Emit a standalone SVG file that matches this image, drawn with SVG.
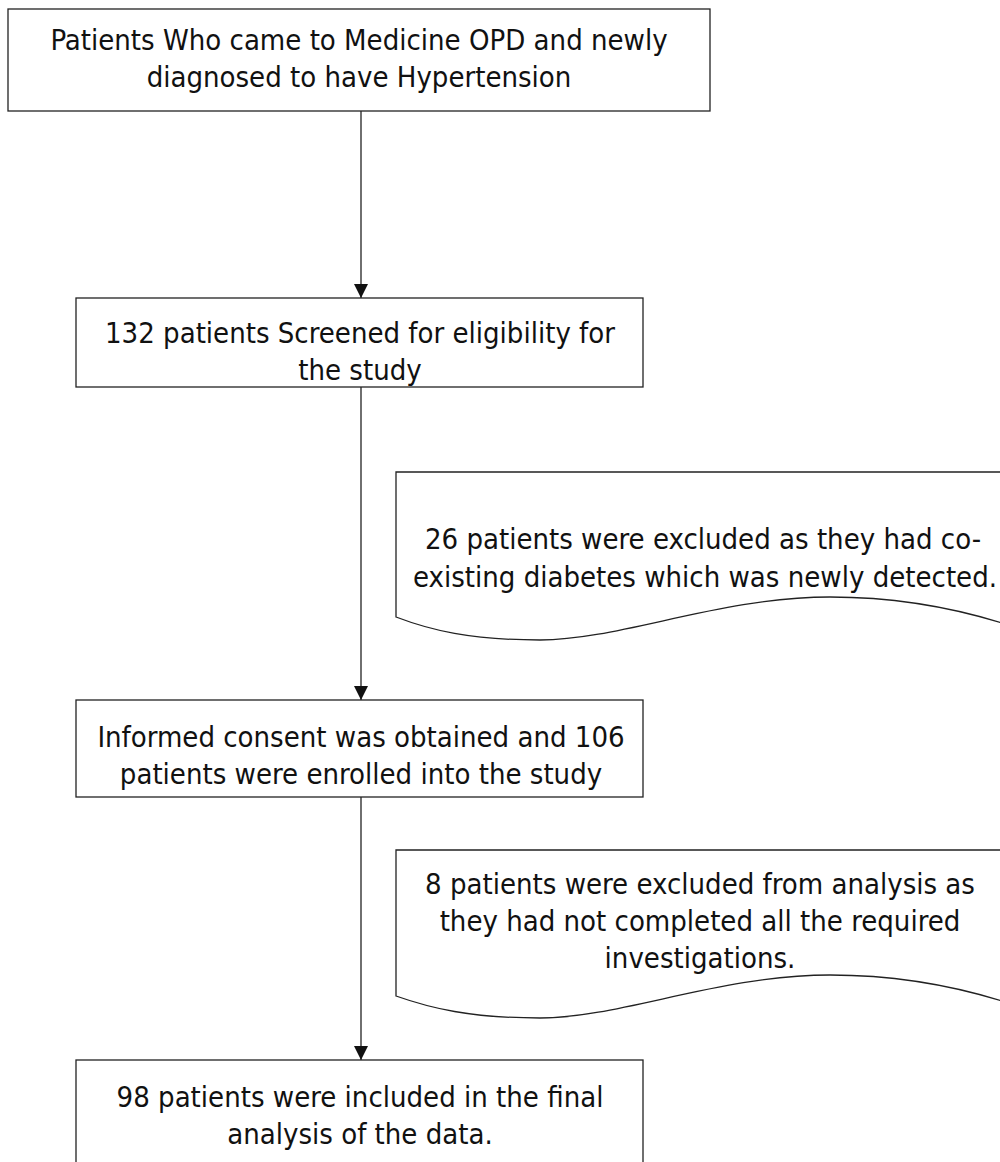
<svg xmlns="http://www.w3.org/2000/svg" width="1000" height="1162" viewBox="0 0 1000 1162">
<defs>
<style>
.box{fill:#fff;stroke:#222;stroke-width:1.3}
.t{font-family:"DejaVu Sans Condensed","DejaVu Sans",sans-serif;font-size:29px;fill:#111;text-anchor:middle}
.c{stroke:#222;stroke-width:1.3;fill:none}
</style>
<marker id="ah" viewBox="0 0 14 14" refX="14" refY="7" markerWidth="14" markerHeight="14" markerUnits="userSpaceOnUse" orient="auto">
<path d="M0,0 L14,7 L0,14 Z" fill="#111"/>
</marker>
</defs>
<rect width="1000" height="1162" fill="#fff"/>
<g id="connectors">
<line class="c" x1="361" y1="111" x2="361" y2="298" marker-end="url(#ah)"/>
<line class="c" x1="361" y1="387" x2="361" y2="700" marker-end="url(#ah)"/>
<line class="c" x1="361" y1="797" x2="361" y2="1060" marker-end="url(#ah)"/>
</g>
<g id="n1">
<rect class="box" x="8" y="9" width="702" height="102"/>
<text class="t" x="359" y="50">Patients Who came to Medicine OPD and newly</text>
<text class="t" x="359" y="87">diagnosed to have Hypertension</text>
</g>
<g id="n2">
<rect class="box" x="76" y="298" width="567" height="89"/>
<text class="t" x="360" y="343">132 patients Screened for eligibility for</text>
<text class="t" x="360" y="380">the study</text>
</g>
<g id="n3">
<path class="box" d="M396,617 L396,472 L1002,472 L1002,623 C960,610 900,597 830,597 C720,597 620,640 540,640 C470,640 430,630 396,617 Z"/>
<text class="t" x="703" y="549">26 patients were excluded as they had co-</text>
<text class="t" x="705" y="587">existing diabetes which was newly detected.</text>
</g>
<g id="n4">
<rect class="box" x="76" y="700" width="567" height="97"/>
<text class="t" x="361" y="747">Informed consent was obtained and 106</text>
<text class="t" x="361" y="784">patients were enrolled into the study</text>
</g>
<g id="n5">
<path class="box" d="M396,996 L396,850 L1002,850 L1002,1001 C960,988 900,975 830,975 C720,975 620,1018 540,1018 C470,1018 430,1008 396,996 Z"/>
<text class="t" x="700" y="894">8 patients were excluded from analysis as</text>
<text class="t" x="700" y="931">they had not completed all the required</text>
<text class="t" x="700" y="968">investigations.</text>
</g>
<g id="n6">
<rect class="box" x="76" y="1060" width="567" height="110"/>
<text class="t" x="360" y="1107">98 patients were included in the final</text>
<text class="t" x="360" y="1144">analysis of the data.</text>
</g>
</svg>
